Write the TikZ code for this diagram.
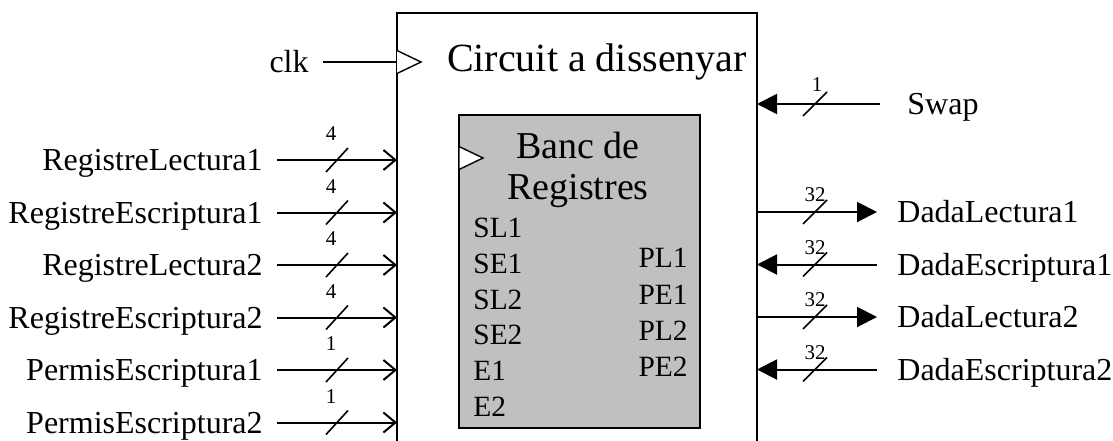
\documentclass[tikz,border=0pt]{standalone}
\usepackage{fontspec}
\setmainfont{Liberation Serif}
\usetikzlibrary{arrows.meta,calc}
\definecolor{bancGray}{HTML}{C0C0C0}
\tikzset{
  wire/.style={line width=1pt},
  inWire/.style={wire, -{Straight Barb[length=6pt,width=10pt]}},
  outWire/.style={wire, -{Triangle[length=10pt,width=10pt]}},
  backWire/.style={wire, {Triangle[length=10pt,width=10pt]}-},
  busTick/.style={line width=0.8pt},
  busLabel/.style={font=\fontsize{10.5}{12}\selectfont, inner sep=0pt},
  portIn/.style={font=\fontsize{16}{18}\selectfont, anchor=east, inner ysep=0pt,
    inner xsep=7pt, text height=10.6pt, text depth=0pt},
  portOut/.style={font=\fontsize{16}{18}\selectfont, anchor=west, inner ysep=0pt,
    inner xsep=10pt, text height=10.6pt, text depth=0pt},
  pinLabel/.style={font=\fontsize{14.7}{16}\selectfont, inner sep=0pt,
    text height=9.7pt, text depth=0pt},
  clkMark/.style={line width=0.7pt, fill=white}
}

\begin{document}
\begin{tikzpicture}[x=0.5pt, y=-0.5pt]
  \useasboundingbox (0,0) rectangle (1113,440);

  % outer block, runs off the bottom
  \node[draw, line width=1pt, outer sep=0pt, anchor=north west,
        minimum width=180pt, minimum height=240pt] (circ) at (397,13) {};
  \node[font=\fontsize{20}{24}\selectfont] (title) at (597,62) {Circuit a dissenyar};

  % register bank
  \node[draw, fill=bancGray, line width=0.75pt, outer sep=0pt, anchor=north west,
        minimum width=120.5pt, minimum height=156.5pt] (banc) at (459,115) {};
  \node[font=\fontsize{19}{20.5}\selectfont, align=center] (bancName) at (578,170) {Banc de\\Registres};

  % clocks
  \node[portIn] (clk) at (323,62) {clk};
  \coordinate (clkIn) at (clk.east -| circ.west);
  \draw[wire] (clk.east) -- (clkIn);
  \draw[clkMark] (clkIn) ++(0,-11.5) -- ++(24,11.5) -- ++(-24,11.5);
  \coordinate (bancClk) at ($(banc.north west)+(0,43)$);
  \draw[clkMark] (bancClk) ++(0,-11.5) -- ++(24,11.5) -- ++(-24,11.5) -- cycle;

  % pins of the bank
  \foreach \pin [count=\i] in {SL1,SE1,SL2,SE2,E1,E2}
    \node[pinLabel, anchor=west] (pinL\i) at (473,{192+35.8*\i}) {\pin};
  \foreach \pin [count=\i] in {PL1,PE1,PL2,PE2}
    \node[pinLabel, anchor=east] (pinR\i) at (688,{221.7+36.3*\i}) {\pin};

  % inputs
  \foreach \name/\w [count=\i] in {RegistreLectura1/4, RegistreEscriptura1/4,
      RegistreLectura2/4, RegistreEscriptura2/4, PermisEscriptura1/1, PermisEscriptura2/1} {
    \node[portIn] (in\i) at (277,{107.5+52.5*\i}) {\name};
    \coordinate (inEnd\i) at (in\i.east -| circ.west);
    \draw[inWire] (in\i.east) -- (inEnd\i);
    \draw[busTick] ($(in\i.east)+(49,12)$) -- ++(22,-24);
    \node[busLabel] (inW\i) at ($(in\i.east)+(54,-26)$) {\w};
  }

  % swap
  \node[portOut, inner xsep=13.5pt] (swap) at (880,104) {Swap};
  \coordinate (swapIn) at (swap.west -| circ.east);
  \draw[outWire] (swap.west) -- (swapIn);
  \draw[busTick] ($(swapIn)+(46,12)$) -- ++(24,-24);
  \node[busLabel] (swapW) at ($(swapIn)+(60,-19)$) {1};

  % data ports
  \foreach \name/\sty [count=\i] in {DadaLectura1/outWire, DadaEscriptura1/backWire,
      DadaLectura2/outWire, DadaEscriptura2/backWire} {
    \node[portOut] (data\i) at (877,{159.5+52.5*\i}) {\name};
    \coordinate (dataIn\i) at (data\i.west -| circ.east);
    \draw[\sty] (dataIn\i) -- (data\i.west);
    \draw[busTick] ($(dataIn\i)+(46,12)$) -- ++(24,-24);
    \node[busLabel] (dataW\i) at ($(dataIn\i)+(58,-17)$) {32};
  }
\end{tikzpicture}
\end{document}
